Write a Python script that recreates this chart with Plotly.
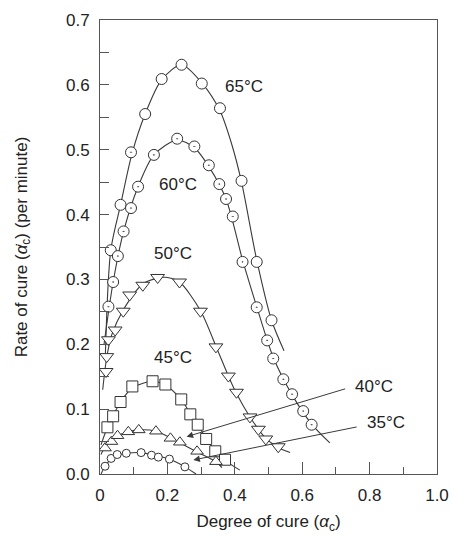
import plotly.graph_objects as go

# ---------------- data ----------------
# measured points
x65 = [0.032, 0.061, 0.134, 0.183, 0.242, 0.302, 0.356, 0.420, 0.465, 0.509]
y65 = [0.345, 0.415, 0.555, 0.609, 0.631, 0.602, 0.564, 0.452, 0.327, 0.237]

x60 = [0.025, 0.039, 0.053, 0.070, 0.092, 0.092, 0.113, 0.160, 0.229, 0.280, 0.323, 0.354,
       0.374, 0.394, 0.423, 0.465, 0.496, 0.514, 0.544, 0.570, 0.603, 0.628]
y60 = [0.258, 0.296, 0.336, 0.374, 0.410, 0.496, 0.443, 0.492, 0.517, 0.505, 0.476, 0.447,
       0.424, 0.397, 0.327, 0.257, 0.206, 0.178, 0.146, 0.123, 0.097, 0.076]

x50 = [0.018, 0.020, 0.025, 0.045, 0.069, 0.088, 0.127, 0.171, 0.236, 0.298, 0.344, 0.381,
       0.405, 0.445, 0.470, 0.492, 0.529]
y50 = [0.158, 0.181, 0.207, 0.222, 0.251, 0.276, 0.291, 0.303, 0.296, 0.251, 0.196, 0.151,
       0.126, 0.088, 0.069, 0.054, 0.042]

x45 = [0.022, 0.039, 0.061, 0.096, 0.156, 0.194, 0.241, 0.268, 0.290, 0.315, 0.342, 0.371]
y45 = [0.072, 0.089, 0.111, 0.135, 0.143, 0.138, 0.115, 0.092, 0.076, 0.054, 0.035, 0.022]

x40 = [0.015, 0.034, 0.052, 0.084, 0.115, 0.166, 0.209, 0.237, 0.288, 0.344]
y40 = [0.040, 0.050, 0.059, 0.065, 0.068, 0.066, 0.055, 0.049, 0.035, 0.019]

x35 = [0.015, 0.033, 0.051, 0.078, 0.122, 0.153, 0.173, 0.206, 0.252]
y35 = [0.012, 0.024, 0.030, 0.032, 0.033, 0.029, 0.026, 0.023, 0.011]

# fitted (model) curves
cx65 = [0.016, 0.032, 0.061, 0.095, 0.134, 0.183, 0.242, 0.302, 0.356, 0.390, 0.420, 0.465, 0.509, 0.546]
cy65 = [0.185, 0.345, 0.415, 0.494, 0.555, 0.608, 0.631, 0.603, 0.560, 0.510, 0.450, 0.330, 0.237, 0.190]

cx60 = [0.012, 0.039, 0.070, 0.113, 0.160, 0.229, 0.280, 0.323, 0.374, 0.423, 0.465, 0.514, 0.570, 0.628, 0.682]
cy60 = [0.200, 0.296, 0.374, 0.443, 0.492, 0.515, 0.503, 0.474, 0.424, 0.330, 0.258, 0.180, 0.122, 0.077, 0.048]

cx50 = [0.008, 0.020, 0.035, 0.069, 0.127, 0.171, 0.200, 0.236, 0.298, 0.344, 0.381, 0.405, 0.445, 0.492, 0.529, 0.564]
cy50 = [0.130, 0.180, 0.215, 0.253, 0.293, 0.302, 0.303, 0.296, 0.252, 0.197, 0.151, 0.124, 0.088, 0.055, 0.041, 0.033]

cx45 = [0.003, 0.022, 0.039, 0.061, 0.096, 0.156, 0.194, 0.241, 0.268, 0.290, 0.315, 0.342, 0.371, 0.415]
cy45 = [0.045, 0.072, 0.090, 0.111, 0.133, 0.143, 0.137, 0.115, 0.093, 0.076, 0.055, 0.036, 0.021, 0.006]

cx40 = [0.003, 0.015, 0.034, 0.052, 0.084, 0.115, 0.166, 0.209, 0.237, 0.288, 0.344, 0.362]
cy40 = [0.030, 0.042, 0.052, 0.059, 0.065, 0.068, 0.066, 0.056, 0.048, 0.034, 0.019, 0.010]

cx35 = [0.003, 0.015, 0.033, 0.051, 0.078, 0.122, 0.153, 0.206, 0.252, 0.285]
cy35 = [0.000, 0.012, 0.023, 0.029, 0.032, 0.033, 0.030, 0.023, 0.011, 0.000]

# curve labels: text, x, y
labels = ["65°C", "60°C", "50°C", "45°C"]
label_x = [0.427, 0.230, 0.217, 0.217]
label_y = [0.597, 0.446, 0.340, 0.179]

arrow_labels = ["40°C", "35°C"]
arrow_text_x = [0.752, 0.786]
arrow_text_y = [0.135, 0.079]
arrow_tail_x = [0.732, 0.766]
arrow_tail_y = [0.132, 0.073]
arrow_head_x = [0.257, 0.277]
arrow_head_y = [0.0575, 0.0216]

x_ticks = [0, 0.2, 0.4, 0.6, 0.8, 1.0]
x_ticktext = ["0", "0.2", "0.4", "0.6", "0.8", "1.0"]
y_ticks = [0, 0.1, 0.2, 0.3, 0.4, 0.5, 0.6, 0.7]
y_ticktext = ["0.0", "0.1", "0.2", "0.3", "0.4", "0.5", "0.6", "0.7"]

# ---------------- figure ----------------
FONT = "Liberation Sans, Arial, sans-serif"
FS = 17
LINE = "#3a3a3a"
MK = "#333333"
TXT = "#222222"

fig = go.Figure()

curves = [(cx65, cy65), (cx60, cy60), (cx50, cy50), (cx45, cy45), (cx40, cy40), (cx35, cy35)]
for cx, cy in curves:
    fig.add_trace(go.Scatter(x=cx, y=cy, mode="lines",
                             line=dict(color=LINE, width=1.1, shape="spline", smoothing=0.8),
                             hoverinfo="skip", showlegend=False))

markers = [
    (x65, y65, "circle", 11),
    (x60, y60, "circle-dot", 11),
    (x50, y50, "triangle-down", 12),
    (x45, y45, "square", 11),
    (x40, y40, "triangle-up", 11),
    (x35, y35, "circle", 8),
]
for mx, my, sym, sz in markers:
    fig.add_trace(go.Scatter(x=mx, y=my, mode="markers",
                             marker=dict(symbol=sym, size=sz, color="white",
                                         line=dict(color=MK, width=1)),
                             showlegend=False))

for t, lx, ly in zip(labels, label_x, label_y):
    fig.add_annotation(x=lx, y=ly, xref="x", yref="y", text=t, showarrow=False,
                       font=dict(family=FONT, size=FS, color=TXT))

for t, tx, ty, ax, ay, hx, hy in zip(arrow_labels, arrow_text_x, arrow_text_y,
                                      arrow_tail_x, arrow_tail_y, arrow_head_x, arrow_head_y):
    fig.add_annotation(x=tx, y=ty, xref="x", yref="y", text=t, showarrow=False,
                       xanchor="left", font=dict(family=FONT, size=FS, color=TXT))
    fig.add_annotation(x=hx, y=hy, xref="x", yref="y", ax=ax, ay=ay, axref="x", ayref="y",
                       text="", showarrow=True, arrowhead=2, arrowsize=1.3,
                       arrowwidth=1, arrowcolor=LINE)

axis_common = dict(showline=True, linecolor="#555", linewidth=1, mirror=True,
                   ticks="inside", tickcolor="#555", showgrid=False, zeroline=False,
                   tickfont=dict(family=FONT, size=FS, color=TXT),
                   ticklabelstandoff=6, automargin=False)

fig.update_xaxes(range=[0, 1.0], tickvals=x_ticks, ticktext=x_ticktext, ticklen=12,
                 minor=dict(dtick=0.1, tick0=0, ticks="inside", ticklen=7, tickcolor="#555"),
                 title=dict(text="Degree of cure (<i>α</i><sub>c</sub>)", standoff=22,
                            font=dict(family=FONT, size=FS, color=TXT)),
                 **axis_common)
fig.update_yaxes(range=[0, 0.7], tickvals=y_ticks, ticktext=y_ticktext, ticklen=9,
                 minor=dict(dtick=0.05, tick0=0, ticks="inside", ticklen=9, tickcolor="#555"),
                 title=dict(text="Rate of cure (<i>α̇</i><sub>c</sub>) (per minute)", standoff=34,
                            font=dict(family=FONT, size=FS, color=TXT)),
                 **axis_common)

fig.update_layout(width=453, height=534, margin=dict(l=100, r=16, t=20, b=60),
                  plot_bgcolor="white", paper_bgcolor="white", showlegend=False)

fig.write_html("out.html", config={"displayModeBar": False},
               post_script="document.body.style.margin='0px';document.body.style.overflow='hidden';")
